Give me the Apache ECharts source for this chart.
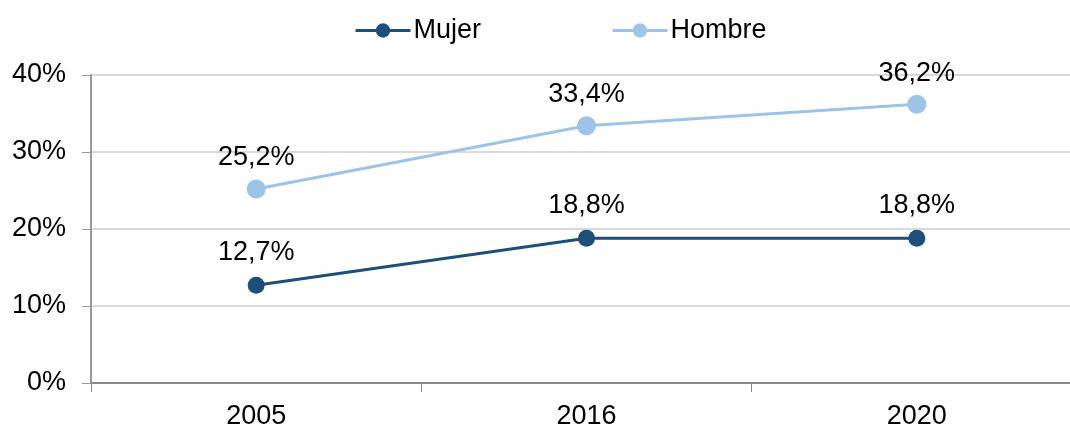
<!DOCTYPE html>
<html>
<head>
<meta charset="utf-8">
<script src="https://cdn.jsdelivr.net/npm/echarts@6/dist/echarts.min.js"></script>
<style>
  html, body { margin: 0; padding: 0; background: #fff; overflow: hidden; }
  /* plot area runs past the right edge of the window */
  #chart { width: 1082px; height: 430px; }
</style>
</head>
<body>
<div id="chart"></div>
<script>
// Years on the category axis
const years = ['2005', '2016', '2020'];
// Percentages by sex
const mujer = [12.7, 18.8, 18.8];
const hombre = [25.2, 33.4, 36.2];
// Value axis ticks (percent)
const yTicks = [0, 10, 20, 30, 40];

const FONT = '"Liberation Sans", Arial, sans-serif';
const FS = 27;
const fmtPct = v => v.toFixed(1).replace('.', ',') + '%';

const chart = echarts.init(document.getElementById('chart'), null, { renderer: 'canvas' });

chart.setOption({
  animation: false,
  textStyle: { fontFamily: FONT },
  legend: {
    top: 12,
    left: 349,
    itemWidth: 55,
    itemHeight: 18,
    itemGap: 130,
    lineStyle: { width: 3 },
    textStyle: { fontSize: FS, color: '#000', fontFamily: FONT, padding: [0, 0, 0, -2] },
    data: ['Mujer', 'Hombre']
  },
  grid: { left: 91, top: 75, right: 0, bottom: 47, containLabel: false },
  xAxis: {
    type: 'category',
    data: years,
    boundaryGap: true,
    axisLine: { lineStyle: { color: '#888', width: 2 } },
    axisTick: { show: true, length: 9, lineStyle: { color: '#888', width: 1 } },
    axisLabel: { fontSize: FS, color: '#000', margin: 20, fontFamily: FONT },
    splitLine: { show: false }
  },
  yAxis: {
    type: 'value',
    min: yTicks[0],
    max: yTicks[yTicks.length - 1],
    interval: 10,
    axisLine: { show: true, lineStyle: { color: '#999', width: 2 } },
    axisTick: { show: true, length: 9, lineStyle: { color: '#999', width: 1 } },
    axisLabel: { fontSize: FS, color: '#000', margin: 25, fontFamily: FONT, formatter: v => v + '%' },
    splitLine: { show: true, lineStyle: { color: '#d9d9d9', width: 2 } }
  },
  series: [
    {
      name: 'Mujer',
      type: 'line',
      data: mujer,
      symbol: 'circle',
      symbolSize: 17,
      lineStyle: { color: '#1f4e79', width: 3 },
      itemStyle: { color: '#1f4e79' },
      label: {
        show: true, position: 'top', distance: 11,
        fontSize: FS, color: '#000', fontFamily: FONT,
        formatter: p => fmtPct(p.value)
      },
      z: 3
    },
    {
      name: 'Hombre',
      type: 'line',
      data: hombre,
      symbol: 'circle',
      symbolSize: 19,
      lineStyle: { color: '#9dc3e6', width: 3 },
      itemStyle: { color: '#9dc3e6' },
      label: {
        show: true, position: 'top', distance: 8,
        fontSize: FS, color: '#000', fontFamily: FONT,
        formatter: p => fmtPct(p.value)
      },
      z: 2
    }
  ]
});
</script>
</body>
</html>
